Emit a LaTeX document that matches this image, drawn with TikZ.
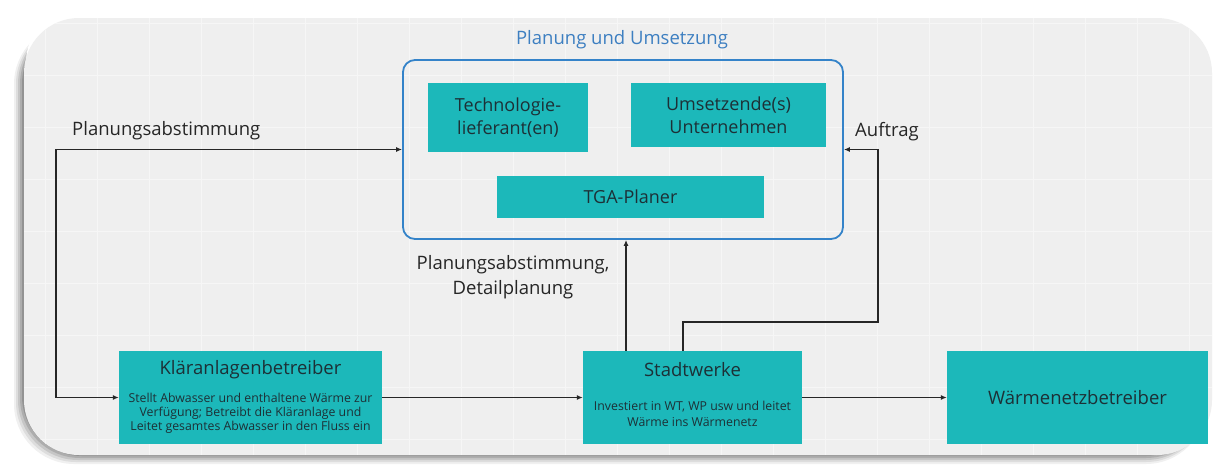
\documentclass[tikz,border=0pt]{standalone}
\usepackage{fontspec}
\setmainfont{Open Sans}
\usetikzlibrary{arrows.meta}
\definecolor{panelgray}{RGB}{239,239,239}
\definecolor{gridgray}{RGB}{246,246,246}
\definecolor{tealbox}{RGB}{28,184,186}
\definecolor{boxtext}{RGB}{28,48,54}
\definecolor{frameblue}{RGB}{52,131,201}
\definecolor{titleblue}{RGB}{61,127,193}

\begin{document}
\begin{tikzpicture}
  [x=1pt,y=-1pt,
  box/.style={fill=tealbox,draw=none,inner sep=0pt,text=boxtext,align=center,
    font=\fontsize{18}{23}\selectfont},
  ttl/.style={inner sep=0pt,text=boxtext,font=\fontsize{18.5}{22}\selectfont},
  small/.style={inner sep=0pt,text=boxtext,align=center,font=\fontsize{12.3}{13.8}\selectfont},
  lbl/.style={inner sep=0pt,text=black!85,align=center,font=\fontsize{18.5}{25}\selectfont},
  arr/.style={draw=black!85,line width=1.5pt,-{Latex[length=6pt,width=5pt]}},
  dbl/.style={draw=black!85,line width=1.5pt,{Latex[length=6pt,width=5pt]}-{Latex[length=6pt,width=5pt]}},
  frame/.style={draw=frameblue,line width=1.8pt,rounded corners=12pt,inner sep=0pt},
  gridline/.style={draw=gridgray,line width=0.8pt}]

  \useasboundingbox (0,0) rectangle (1218,466);
  \fill[white] (0,0) rectangle (1218,466);

  \foreach \s/\o in {9/0.06,7/0.08,5/0.1,3/0.12,1/0.15}
    \fill[black,opacity=\o,rounded corners=60] (23-\s,24) rectangle (1206,455+\s);
  \fill[white,rounded corners=58] (26,5) rectangle (1215,449);
  \fill[panelgray,rounded corners=55] (24,18) rectangle (1212,455);

  \begin{scope}
    \clip[rounded corners=55] (24,18) rectangle (1212,455);
    \foreach \gx in {45,97,...,1210}
      \draw[gridline] (\gx,18) -- (\gx,455);
    \foreach \gy in {23,75,...,455}
      \draw[gridline] (24,\gy) -- (1212,\gy);
  \end{scope}

  \node[lbl,text=titleblue] (lbltitle) at (622,40) {Planung und Umsetzung};
  \node[frame,minimum width=440,minimum height=179] (plan) at (623,149.5) {};

  \node[box,minimum width=160,minimum height=69] (tech) at (508,117.5) {Technologie-\\lieferant(en)};
  \node[box,minimum width=195,minimum height=64] (umsetz) at (728.5,115) {Umsetzende(s)\\Unternehmen};
  \node[box,minimum width=267,minimum height=42] (tga) at (630.5,197) {TGA-Planer};

  \node[box,minimum width=263,minimum height=93] (klaer) at (250.5,397.5) {};
  \node[ttl] (klaertitle) at (250.5,370) {Kläranlagenbetreiber};
  \node[small] (klaertext) at (250.5,413.5) {Stellt Abwasser und enthaltene Wärme zur\\Verfügung; Betreibt die Kläranlage und\\Leitet gesamtes Abwasser in den Fluss ein};

  \node[box,minimum width=219,minimum height=93] (stadt) at (692.5,397.5) {};
  \node[ttl] (stadttitle) at (692.5,370) {Stadtwerke};
  \node[small,font=\fontsize{12.3}{16}\selectfont] (stadttext) at (692.5,414) {Investiert in WT, WP usw und leitet\\Wärme ins Wärmenetz};

  \node[box,minimum width=261,minimum height=93,font=\fontsize{18.5}{22}\selectfont] (waerme) at (1077.5,397.5) {Wärmenetzbetreiber};

  \node[lbl,anchor=west] (lblleft) at (72,131) {Planungsabstimmung};
  \node[lbl,anchor=west] (lblauftrag) at (855,132) {Auftrag};
  \node[lbl] (lbldetail) at (513,277) {Planungsabstimmung,\\Detailplanung};

  \draw[dbl] (klaer.west) -- ++(-63,0) |- (plan.west);
  \draw[arr] (klaer.east) -- (stadt.west);
  \draw[arr] (stadt.east) -- (waerme.west);
  \draw[arr] ([xshift=-66.5]stadt.north) -- ([xshift=-66.5]stadt.north |- plan.south);
  \draw[arr] ([xshift=-9.5]stadt.north) -- ++(0,-29) -| ([xshift=34]plan.east) -- (plan.east);

\end{tikzpicture}
\end{document}
